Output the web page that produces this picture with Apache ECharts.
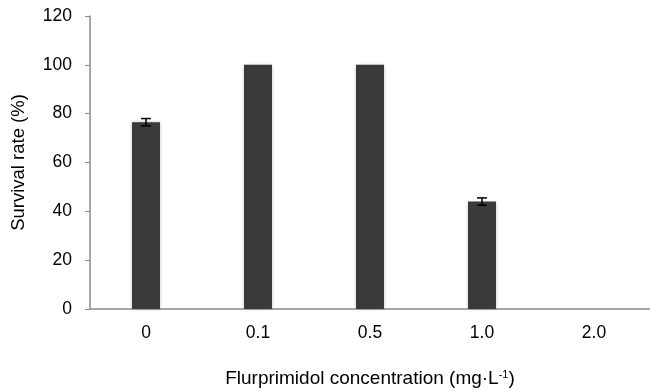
<!DOCTYPE html>
<html lang="en">
<head>
  <meta charset="UTF-8">
  <title>Survival rate</title>
  <script src="https://cdn.jsdelivr.net/npm/echarts@6/dist/echarts.min.js"></script>
</head>
<body style="margin:0;background:#fff;">
<div id="main" style="height:392px;width:650px;"></div>
<script>
  // data
  var categories = ['0', '0.1', '0.5', '1.0', '2.0'];
  var survival = [76.5, 100, 100, 44, 0];
  var errors = [1.5, 0, 0, 1.5, 0];
  var yTicks = [0, 20, 40, 60, 80, 100, 120];

  var font = 'Liberation Sans, Arial, sans-serif';

  var errData = [];
  for (var i = 0; i < categories.length; i++) {
    if (errors[i] > 0) errData.push([i, survival[i] - errors[i], survival[i] + errors[i]]);
  }

  var myChart = echarts.init(document.getElementById('main'));

  var option = {
    animation: false,
    grid: { left: 90, right: 0, top: 16, bottom: 83, containLabel: false, outerBoundsMode: 'none' },
    xAxis: {
      type: 'category',
      data: categories,
      name: 'Flurprimidol concentration (mg·L{sup|-1})',
      nameLocation: 'middle',
      nameGap: 60,
      nameTextStyle: {
        color: '#000', fontSize: 19, fontFamily: font,
        rich: { sup: { fontSize: 11, verticalAlign: 'top', padding: [0, 0, 8, 0], fontFamily: font, color: '#000' } }
      },
      axisLine: { lineStyle: { color: '#8a8a8a', width: 1.5 } },
      axisTick: { show: false },
      axisLabel: { color: '#000', fontSize: 17.5, fontFamily: font, margin: 15 }
    },
    yAxis: {
      type: 'value',
      min: yTicks[0],
      max: yTicks[yTicks.length - 1],
      interval: 20,
      name: 'Survival rate (%)',
      nameLocation: 'middle',
      nameGap: 62,
      nameTextStyle: { color: '#000', fontSize: 18.5, fontFamily: font },
      axisLine: { show: true, lineStyle: { color: '#8a8a8a', width: 1.5 } },
      axisTick: { show: true, length: 5, lineStyle: { color: '#8a8a8a' } },
      splitLine: { show: false },
      axisLabel: { color: '#000', fontSize: 17.5, fontFamily: font, margin: 18 }
    },
    series: [
      {
        type: 'bar',
        data: survival,
        barWidth: 28,
        itemStyle: {
          color: '#3a3a3a',
          shadowColor: 'rgba(0,0,0,0.25)',
          shadowBlur: 3
        }
      },
      {
        type: 'custom',
        data: errData,
        z: 5,
        renderItem: function (params, api) {
          var x = api.value(0);
          var lo = api.coord([x, api.value(1)]);
          var hi = api.coord([x, api.value(2)]);
          var w = 5;
          var st = { stroke: '#000', lineWidth: 1.5 };
          return {
            type: 'group',
            children: [
              { type: 'line', shape: { x1: lo[0], y1: lo[1], x2: hi[0], y2: hi[1] }, style: st },
              { type: 'line', shape: { x1: lo[0] - w, y1: lo[1], x2: lo[0] + w, y2: lo[1] }, style: st },
              { type: 'line', shape: { x1: hi[0] - w, y1: hi[1], x2: hi[0] + w, y2: hi[1] }, style: st }
            ]
          };
        }
      }
    ]
  };

  myChart.setOption(option);
</script>
</body>
</html>
